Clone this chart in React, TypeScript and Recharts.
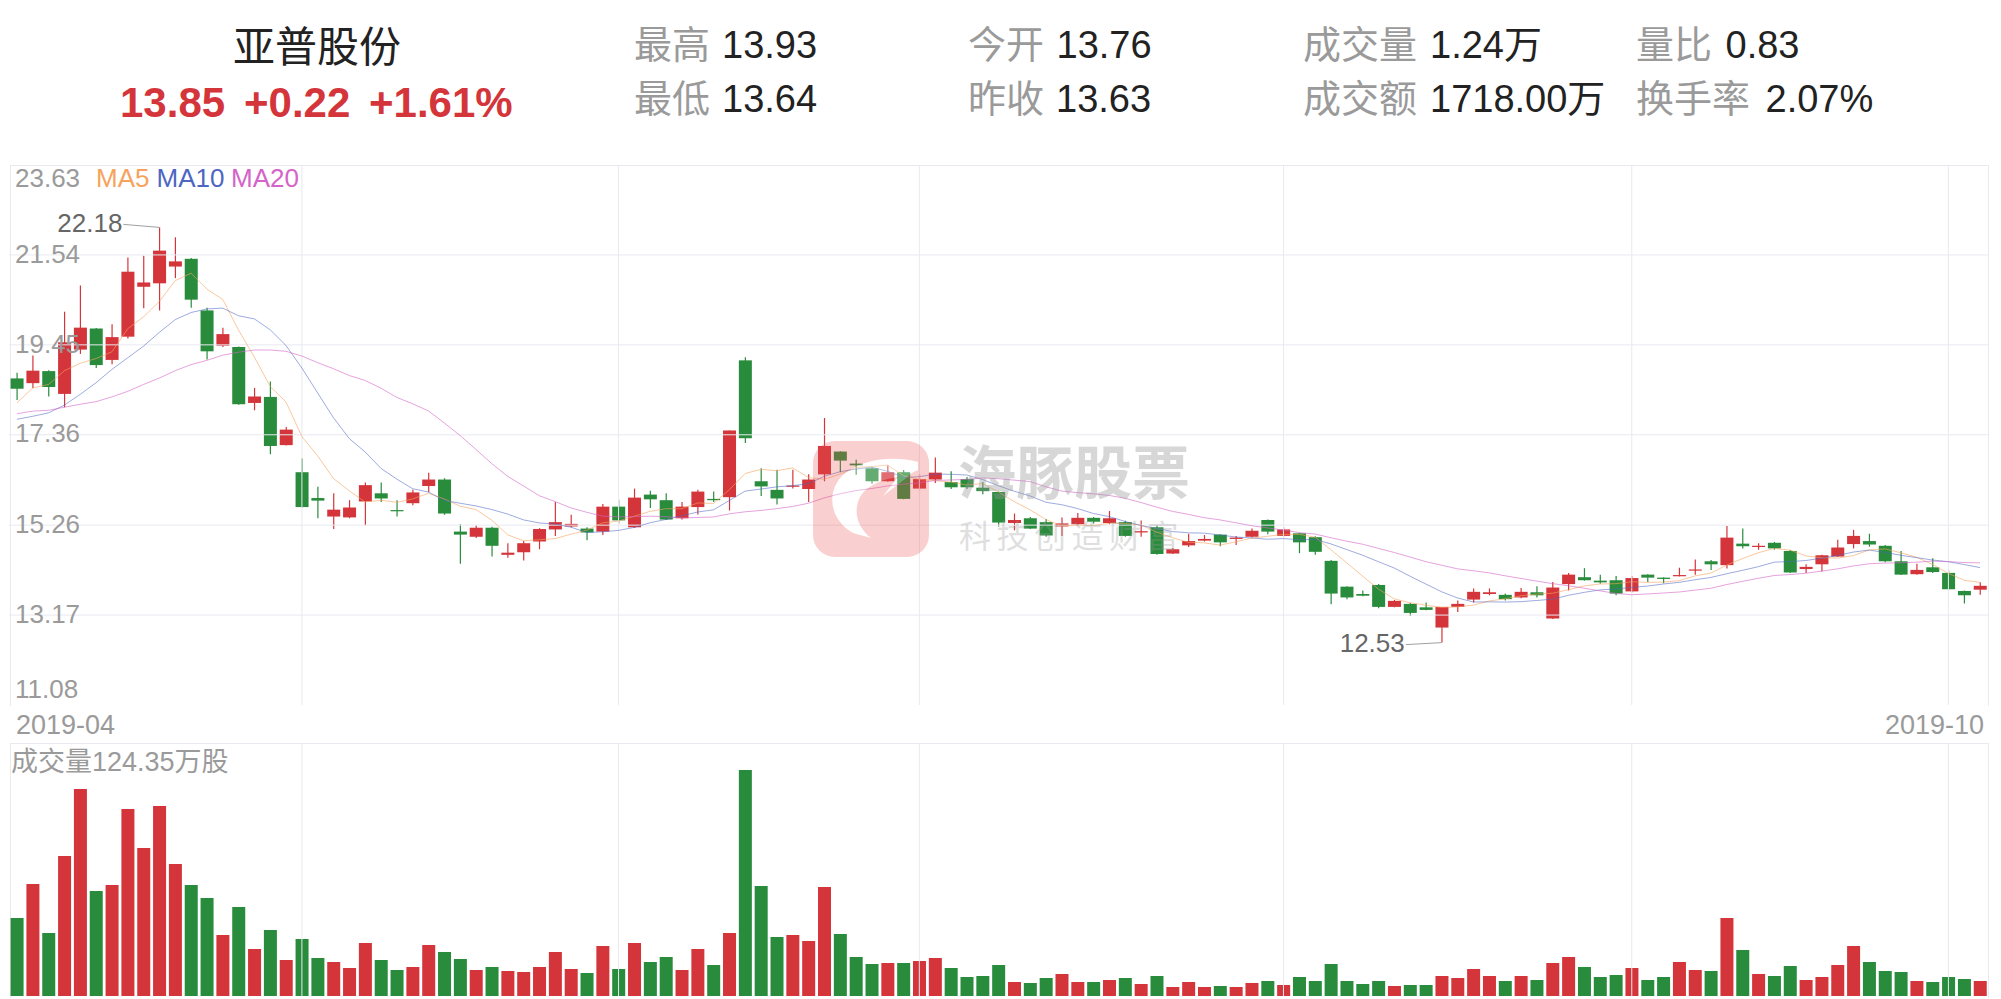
import React from 'react';
import { ComposedChart, BarChart, Bar, Line, XAxis, YAxis, ReferenceLine, ReferenceDot } from 'recharts';

const RED = '#d4353a';
const GREEN = '#298c3c';
const GRID = '#e8e9f1';
const LABEL = '#9a9a9a';
const FONT = '"Liberation Sans", "Noto Sans CJK SC", sans-serif';
const CJK = '"Noto Sans CJK SC", "Liberation Sans", sans-serif';

const dates = [
  '2019-04-04','2019-04-08','2019-04-09','2019-04-10','2019-04-11','2019-04-12','2019-04-15','2019-04-16','2019-04-17','2019-04-18',
  '2019-04-19','2019-04-22','2019-04-23','2019-04-24','2019-04-25','2019-04-26','2019-04-29','2019-04-30',
  '2019-05-06','2019-05-07','2019-05-08','2019-05-09','2019-05-10','2019-05-13','2019-05-14','2019-05-15','2019-05-16','2019-05-17',
  '2019-05-20','2019-05-21','2019-05-22','2019-05-23','2019-05-24','2019-05-27','2019-05-28','2019-05-29','2019-05-30','2019-05-31',
  '2019-06-03','2019-06-04','2019-06-05','2019-06-06','2019-06-10','2019-06-11','2019-06-12','2019-06-13','2019-06-14','2019-06-17',
  '2019-06-18','2019-06-19','2019-06-20','2019-06-21','2019-06-24','2019-06-25','2019-06-26','2019-06-27','2019-06-28',
  '2019-07-01','2019-07-02','2019-07-03','2019-07-04','2019-07-05','2019-07-08','2019-07-09','2019-07-10','2019-07-11','2019-07-12',
  '2019-07-15','2019-07-16','2019-07-17','2019-07-18','2019-07-19','2019-07-22','2019-07-23','2019-07-24','2019-07-25','2019-07-26',
  '2019-07-29','2019-07-30','2019-07-31',
  '2019-08-01','2019-08-02','2019-08-05','2019-08-06','2019-08-07','2019-08-08','2019-08-09','2019-08-12','2019-08-13','2019-08-14',
  '2019-08-15','2019-08-16','2019-08-19','2019-08-20','2019-08-21','2019-08-22','2019-08-23','2019-08-26','2019-08-27','2019-08-28',
  '2019-08-29','2019-08-30',
  '2019-09-02','2019-09-03','2019-09-04','2019-09-05','2019-09-06','2019-09-09','2019-09-10','2019-09-11','2019-09-12','2019-09-16',
  '2019-09-17','2019-09-18','2019-09-19','2019-09-20','2019-09-23','2019-09-24','2019-09-25','2019-09-26','2019-09-27','2019-09-30',
  '2019-10-08','2019-10-09','2019-10-10',
];

const opens = [
  18.67, 18.56, 18.84, 18.31, 19.34, 19.83, 19.10, 19.64, 20.80, 20.88,
  21.27, 21.45, 20.25, 19.43, 19.40, 18.10, 18.24, 17.12, 16.49, 15.89,
  15.46, 15.44, 15.81, 16.00, 15.61, 15.77, 16.17, 16.32, 15.11, 14.99,
  15.20, 14.57, 14.63, 14.88, 15.16, 15.23, 15.18, 15.11, 15.69, 15.21,
  15.97, 15.84, 15.42, 15.68, 15.87, 15.91, 19.09, 16.28, 16.08, 16.16,
  16.10, 16.44, 16.97, 16.69, 16.58, 16.28, 16.49, 16.11, 16.32, 16.26,
  16.33, 16.13, 16.03, 15.31, 15.42, 15.33, 15.23, 15.28, 15.43, 15.31,
  15.33, 15.09, 15.21, 14.60, 14.79, 14.90, 15.04, 14.94, 14.99, 15.38,
  15.01, 15.07, 14.98, 14.43, 13.83, 13.66, 13.87, 13.36, 13.43, 13.35,
  12.88, 13.36, 13.53, 13.66, 13.64, 13.58, 13.70, 13.09, 13.89, 14.05,
  13.97, 13.98, 13.72, 14.11, 14.04, 14.08, 14.21, 14.42, 14.33, 14.83,
  14.76, 14.85, 14.66, 14.24, 14.35, 14.53, 14.82, 14.89, 14.78, 14.42,
  14.12, 14.28, 14.15, 13.73, 13.76,
];

const highs = [
  18.80, 19.20, 18.86, 20.22, 20.83, 19.84, 19.93, 21.48, 21.52, 22.18,
  21.95, 21.47, 20.31, 19.85, 19.41, 18.45, 18.60, 17.54, 16.81, 16.15,
  16.00, 15.84, 16.25, 16.25, 15.84, 16.08, 16.48, 16.35, 15.28, 15.26,
  15.22, 14.84, 14.89, 15.19, 15.80, 15.50, 15.21, 15.75, 15.85, 16.11,
  16.06, 16.00, 15.80, 16.08, 16.04, 17.46, 19.16, 16.58, 16.55, 16.55,
  16.44, 17.75, 16.98, 16.78, 16.60, 16.65, 16.54, 16.45, 16.83, 16.51,
  16.38, 16.26, 16.04, 15.53, 15.45, 15.40, 15.44, 15.54, 15.45, 15.59,
  15.36, 15.37, 15.26, 14.73, 15.06, 15.03, 15.05, 15.01, 15.18, 15.39,
  15.21, 15.08, 15.00, 14.45, 13.84, 13.74, 13.89, 13.52, 13.45, 13.46,
  13.36, 13.51, 13.79, 13.79, 13.67, 13.80, 13.84, 13.94, 14.15, 14.26,
  14.11, 14.08, 14.07, 14.12, 14.05, 14.27, 14.46, 14.45, 15.24, 15.18,
  14.84, 14.87, 14.68, 14.35, 14.57, 14.92, 15.15, 15.06, 14.80, 14.66,
  14.36, 14.49, 14.22, 13.74, 13.93,
];

const lows = [
  18.17, 18.44, 18.25, 18.00, 19.24, 18.91, 19.00, 19.60, 20.30, 20.25,
  21.00, 20.31, 19.11, 19.40, 18.06, 17.93, 16.91, 17.11, 15.67, 15.42,
  15.17, 15.42, 15.26, 15.80, 15.46, 15.72, 16.03, 15.50, 14.36, 14.96,
  14.53, 14.50, 14.44, 14.70, 15.01, 15.21, 14.91, 15.03, 15.29, 15.20,
  15.66, 15.38, 15.39, 15.51, 15.80, 15.60, 17.17, 15.94, 15.74, 16.11,
  15.80, 16.28, 16.49, 16.43, 16.22, 16.27, 15.86, 16.09, 16.24, 16.10,
  16.10, 15.98, 15.23, 15.14, 15.17, 14.99, 15.01, 15.25, 15.30, 15.28,
  14.99, 14.99, 14.57, 14.59, 14.75, 14.88, 14.77, 14.80, 14.97, 15.05,
  14.99, 14.61, 14.57, 13.42, 13.54, 13.61, 13.33, 13.35, 13.15, 13.28,
  12.53, 13.24, 13.46, 13.63, 13.51, 13.56, 13.58, 13.08, 13.74, 13.97,
  13.90, 13.63, 13.70, 13.94, 13.91, 14.07, 14.11, 14.22, 14.25, 14.72,
  14.69, 14.69, 14.15, 14.15, 14.18, 14.52, 14.72, 14.76, 14.40, 14.10,
  14.11, 14.15, 13.76, 13.44, 13.64,
];

const closes = [
  18.43, 18.85, 18.47, 19.51, 19.85, 18.98, 19.63, 21.15, 20.90, 21.64,
  21.39, 20.50, 19.30, 19.70, 18.07, 18.25, 17.10, 17.48, 15.68, 15.83,
  15.62, 15.67, 16.19, 15.88, 15.59, 16.02, 16.32, 15.53, 15.04, 15.20,
  14.78, 14.62, 14.84, 15.17, 15.33, 15.29, 15.09, 15.69, 15.37, 15.90,
  15.86, 15.39, 15.69, 16.04, 15.84, 17.46, 17.28, 16.16, 15.88, 16.18,
  16.32, 17.10, 16.76, 16.65, 16.28, 16.49, 15.87, 16.33, 16.48, 16.14,
  16.14, 16.05, 15.32, 15.38, 15.18, 15.02, 15.30, 15.43, 15.34, 15.42,
  15.01, 15.12, 14.59, 14.70, 14.89, 14.94, 14.86, 14.97, 15.13, 15.11,
  15.16, 14.86, 14.64, 13.67, 13.58, 13.62, 13.36, 13.50, 13.22, 13.29,
  13.36, 13.43, 13.71, 13.70, 13.54, 13.71, 13.63, 13.81, 14.11, 13.98,
  13.93, 13.67, 14.03, 14.04, 14.01, 14.10, 14.23, 14.35, 14.97, 14.77,
  14.78, 14.72, 14.16, 14.29, 14.56, 14.74, 15.01, 14.81, 14.42, 14.11,
  14.22, 14.17, 13.77, 13.63, 13.85,
];

// volume in 万股
const volumes = [
  646.5, 928.4, 522.2, 1160.5, 1715.8, 870.3, 920.1, 1550.0, 1226.8, 1574.9,
  1094.1, 920.1, 812.3, 505.6, 737.7, 389.6, 547.1, 298.4, 472.5, 315.0,
  281.8, 232.1, 439.3, 298.4, 215.5, 240.4, 422.7, 364.7, 306.7, 215.5,
  240.4, 207.2, 198.9, 240.4, 364.7, 223.8, 190.6, 414.5, 223.8, 439.3,
  281.8, 323.3, 215.5, 389.6, 257.0, 522.2, 1873.3, 911.8, 489.1, 505.6,
  455.9, 903.5, 513.9, 323.3, 265.2, 273.5, 273.5, 290.1, 315.0, 232.1,
  157.5, 165.8, 257.0, 116.0, 107.8, 149.2, 182.4, 116.0, 116.0, 132.6,
  149.2, 99.5, 165.8, 74.6, 116.0, 74.6, 82.9, 74.6, 107.8, 124.3,
  91.2, 157.5, 124.3, 265.2, 124.3, 99.5, 124.3, 82.9, 91.2, 91.2,
  165.8, 149.2, 223.8, 165.8, 124.3, 165.8, 132.6, 273.5, 323.3, 240.4,
  157.5, 174.1, 232.1, 132.6, 157.5, 281.8, 215.5, 207.2, 646.5, 381.3,
  182.4, 165.8, 248.7, 132.6, 157.5, 257.0, 414.5, 281.8, 207.2, 198.9,
  124.3, 116.0, 157.5, 140.9, 124.35,
];

// moving-average values before enough history exists in the window
const ma5Head = [18.10, 18.45, 18.53, 18.85];
const ma10Head = [17.72, 17.79, 17.87, 18.05, 18.30, 18.57, 18.88, 19.15, 19.42];
const ma20Head = [17.85, 17.91, 17.93, 18.00, 18.07, 18.13, 18.24, 18.37, 18.53, 18.68,
  18.85, 18.99, 19.09, 19.21, 19.28, 19.33, 19.33, 19.30, 19.19];

const priceTicks = [23.63, 21.54, 19.45, 17.36, 15.26, 13.17, 11.08];
const monthStarts = ['2019-05-06', '2019-06-03', '2019-07-01', '2019-08-01', '2019-09-02', '2019-10-08'];
const axisDateLabels = ['2019-04', '2019-10'];

const stockName = '亚普股份';
const quoteMain = ['13.85', '+0.22', '+1.61%'];
const quoteLabels = [['最高', '最低'], ['今开', '昨收'], ['成交量', '成交额'], ['量比', '换手率']];
const quoteValues = [['13.93', '13.64'], ['13.76', '13.63'], ['1.24万', '1718.00万'], ['0.83', '2.07%']];
const maNames = ['MA5', 'MA10', 'MA20'];
const maColors = ['#f6a35e', '#4d66c2', '#d465c8'];

function movingAvg(n: number, head: number[]) {
  return closes.map((_, i) => {
    if (i < n - 1) return head[i];
    let s = 0;
    for (let k = i - n + 1; k <= i; k++) s += closes[k];
    return s / n;
  });
}
const ma5 = movingAvg(5, ma5Head);
const ma10 = movingAvg(10, ma10Head);
const ma20 = movingAvg(20, ma20Head);

const rows = dates.map((date, i) => ({
  date,
  open: opens[i],
  high: highs[i],
  low: lows[i],
  close: closes[i],
  volume: volumes[i],
  ma5: ma5[i],
  ma10: ma10[i],
  ma20: ma20[i],
}));

const hiIdx = highs.indexOf(Math.max(...highs));
const loIdx = lows.indexOf(Math.min(...lows));

const Candle = (props: any) => {
  const { x, y, width, height, payload } = props;
  if (!payload || height == null) return null;
  const { open, close, high, low } = payload;
  const color = close >= open ? RED : GREEN;
  const top = Math.min(y, y + height);
  const h = Math.abs(height);
  const k = high > low ? h / (high - low) : 0;
  const yAt = (v: number) => top + (high - v) * k;
  const bTop = yAt(Math.max(open, close));
  const bBot = yAt(Math.min(open, close));
  const cx = x + width / 2;
  return (
    <g>
      <line x1={cx} x2={cx} y1={top} y2={top + h} stroke={color} strokeWidth={1.2} />
      <rect x={x} y={bTop} width={width} height={Math.max(bBot - bTop, 1.2)} fill={color} />
    </g>
  );
};

const VolBar = (props: any) => {
  const { x, y, width, height, payload } = props;
  if (!payload) return null;
  const color = payload.close >= payload.open ? RED : GREEN;
  return <rect x={x} y={Math.min(y, y + height)} width={width} height={Math.abs(height)} fill={color} />;
};

const tickDy = [21.7, 7.7, 7.7, 7.7, 7.7, 7.7, -6.7];

const makeTickLabel = (t: number, i: number) => (p: any) => {
  const vb = p.viewBox || {};
  return (
    <text x={(vb.x || 0) + 6} y={(vb.y || 0) + tickDy[i]} fill={LABEL} fontSize={26} fontFamily={FONT}>
      {t.toFixed(2)}
    </text>
  );
};

const HighMark = (p: any) => {
  const { cx, cy } = p;
  return (
    <g>
      <line x1={cx} y1={cy} x2={cx - 36} y2={cy - 3} stroke="#a0a0a0" strokeWidth={1} />
      <text x={cx - 37} y={cy + 4.3} textAnchor="end" fill="#666" fontSize={26} fontFamily={FONT}>
        {highs[hiIdx].toFixed(2)}
      </text>
    </g>
  );
};

const LowMark = (p: any) => {
  const { cx, cy } = p;
  return (
    <g>
      <line x1={cx} y1={cy} x2={cx - 36} y2={cy + 2} stroke="#a0a0a0" strokeWidth={1} />
      <text x={cx - 37} y={cy + 9.7} textAnchor="end" fill="#666" fontSize={26} fontFamily={FONT}>
        {lows[loIdx].toFixed(2)}
      </text>
    </g>
  );
};

const colLabelX = [634, 968, 1303, 1636];
const colValueX = [[722, 722], [1056.5, 1056], [1430, 1430], [1725.5, 1765.5]];
const rowBase = [58, 112];

export default function App() {
  return (
    <div style={{ position: 'fixed', left: 0, top: 0, width: 2001, height: 999, background: '#fff', overflow: 'hidden' }}>
      {/* panel frames */}
      <div style={{ position: 'absolute', left: 10, top: 165, width: 1977, height: 540, borderTop: `1px solid ${GRID}`, borderLeft: `1px solid ${GRID}`, borderRight: `1px solid ${GRID}` }} />
      <div style={{ position: 'absolute', left: 10, top: 743, width: 1977, height: 254, borderTop: `1px solid ${GRID}`, borderLeft: `1px solid ${GRID}`, borderRight: `1px solid ${GRID}` }} />

      <div style={{ position: 'absolute', left: 9, top: 164 }}>
        <ComposedChart width={1979} height={541} data={rows} margin={{ top: 1, right: 0, bottom: 0, left: 0 }} barCategoryGap="10%">
          <XAxis dataKey="date" hide />
          <YAxis domain={[11.08, 23.63]} hide allowDataOverflow />
          {priceTicks.map((t, i) => (
            <ReferenceLine key={'p' + t} y={t} stroke={i === 0 || i === priceTicks.length - 1 ? 'none' : GRID} strokeWidth={1} label={makeTickLabel(t, i)} />
          ))}
          {monthStarts.map((d) => (
            <ReferenceLine key={'m' + d} x={d} stroke={GRID} strokeWidth={1} />
          ))}
          <Bar dataKey={(d: any) => [d.low, d.high]} shape={Candle} isAnimationActive={false} />
          <Line type="linear" dataKey="ma5" stroke={maColors[0]} strokeWidth={1} strokeOpacity={0.6} dot={false} activeDot={false} isAnimationActive={false} />
          <Line type="linear" dataKey="ma10" stroke={maColors[1]} strokeWidth={1} strokeOpacity={0.55} dot={false} activeDot={false} isAnimationActive={false} />
          <Line type="linear" dataKey="ma20" stroke={maColors[2]} strokeWidth={1} strokeOpacity={0.6} dot={false} activeDot={false} isAnimationActive={false} />
          <ReferenceDot x={dates[hiIdx]} y={highs[hiIdx]} r={0} shape={HighMark} />
          <ReferenceDot x={dates[loIdx]} y={lows[loIdx]} r={0} shape={LowMark} />
        </ComposedChart>
      </div>

      <div style={{ position: 'absolute', left: 9, top: 742 }}>
        <BarChart width={1979} height={255} data={rows} margin={{ top: 1, right: 0, bottom: 1, left: 0 }} barCategoryGap="10%">
          <XAxis dataKey="date" hide />
          <YAxis domain={[0, 2097]} hide allowDataOverflow />
          {monthStarts.map((d) => (
            <ReferenceLine key={'v' + d} x={d} stroke={GRID} strokeWidth={1} />
          ))}
          <Bar dataKey="volume" shape={VolBar} isAnimationActive={false} />
        </BarChart>
      </div>

      <svg style={{ position: 'absolute', left: 0, top: 0, pointerEvents: 'none' }} width={2001} height={999}>
        <g fontFamily={FONT}>
          <text x={233} y={62} fontSize={42} fill="#222" fontFamily={CJK}>{stockName}</text>
          <text y={117} fontSize={42} fontWeight={700} fill={RED}>
            <tspan x={120}>{quoteMain[0]}</tspan>
            <tspan x={244}>{quoteMain[1]}</tspan>
            <tspan x={369}>{quoteMain[2]}</tspan>
          </text>
          {quoteLabels.map((col, c) =>
            col.map((lab, r) => (
              <g key={lab}>
                <text x={colLabelX[c]} y={rowBase[r]} fontSize={38} fill={LABEL} fontFamily={CJK}>{lab}</text>
                <text x={colValueX[c][r]} y={rowBase[r]} fontSize={38} fill="#222">{quoteValues[c][r]}</text>
              </g>
            ))
          )}
          {/* legend */}
          <text x={96} y={187} fontSize={26} fill={maColors[0]}>{maNames[0]}</text>
          <text x={156.5} y={187} fontSize={26} fill={maColors[1]}>{maNames[1]}</text>
          <text x={231} y={187} fontSize={26} fill={maColors[2]}>{maNames[2]}</text>
          {/* date labels */}
          <text x={16} y={734} fontSize={27} fill={LABEL}>{axisDateLabels[0]}</text>
          <text x={1984} y={734} fontSize={27} fill={LABEL} textAnchor="end">{axisDateLabels[1]}</text>
          {/* volume label */}
          <text x={11} y={771} fontSize={27} fill={LABEL}>{`成交量${volumes[volumes.length - 1]}万股`}</text>
          {/* watermark */}
          <g transform="translate(813,441)" opacity={0.28}>
            <rect width={116} height={116} rx={22} fill="#ee5555" />
            <path d="M105 21 C 80 14, 45 18, 28 36 C 14 52, 16 78, 40 92 L 58 97 C 44 86, 40 70, 47 56 C 54 44, 70 38, 85 36 L 70 55 L 92 38 C 97 33, 101 30, 105 29 Z" fill="#fff" />
          </g>
          <text x={958} y={494} fontSize={58} fontWeight={700} fill="#999" opacity={0.38} fontFamily={CJK}>海豚股票</text>
          <text x={959} y={548} fontSize={32} letterSpacing={5.5} fill="#999" opacity={0.3} fontFamily={CJK}>科技创造财富</text>
        </g>
      </svg>
    </div>
  );
}
